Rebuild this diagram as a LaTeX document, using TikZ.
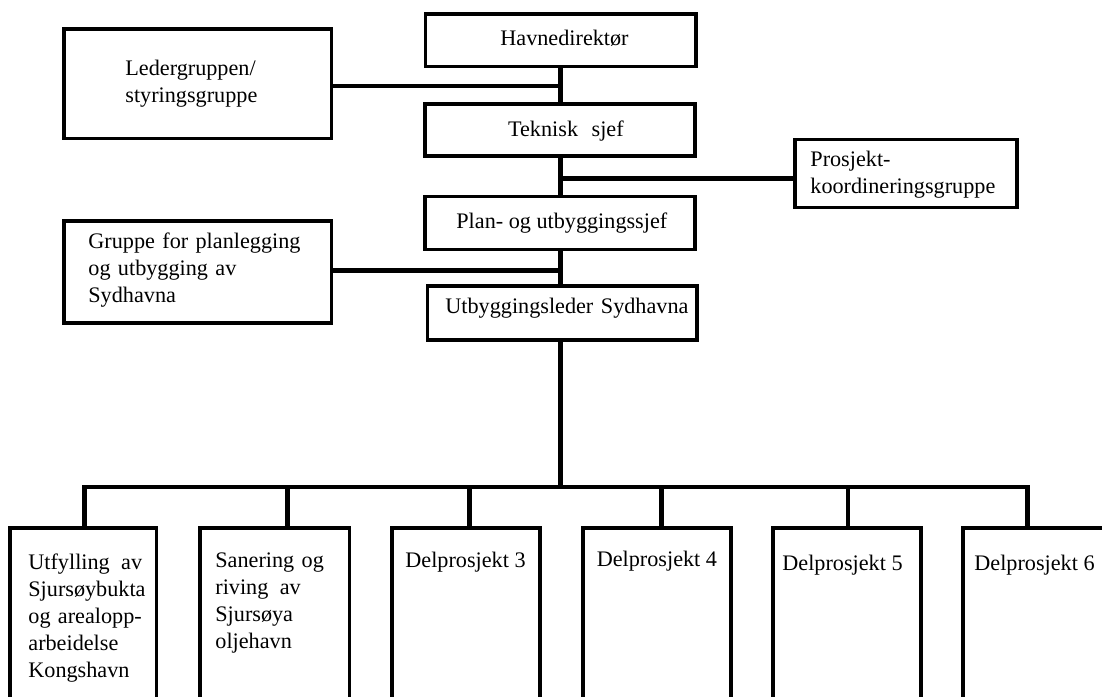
\documentclass[tikz,border=0pt]{standalone}
\usepackage{fontspec}
\setmainfont{Liberation Serif}
\usetikzlibrary{fit}
\tikzset{
  box/.style={draw=black, line width=1.65pt, fill=white, inner sep=0pt},
  conn/.style={draw=black, line width=2.35pt},
  txt/.style={inner sep=0pt, font=\fontsize{11.1pt}{13.5pt}\selectfont, anchor=base west},
  mtxt/.style={txt, text width=200pt, align=left}
}
\begin{document}
\begin{tikzpicture}[x=0.5pt,y=-0.5pt]
\useasboundingbox (0,0) rectangle (1102,696);
\fill[white] (0,0) rectangle (1102,696);
\clip (0,0) rectangle (1102,696);

% boxes
\node[box, fit={(425.7,14) (696,66.7)}] (hd) {};
\node[box, fit={(425,104) (695,156)}] (ts) {};
\node[box, fit={(425,196.7) (695,249.3)}] (pu) {};
\node[box, fit={(427.7,286) (697,340)}] (ul) {};
\node[box, fit={(64,29) (331.7,138.5)}] (lg) {};
\node[box, fit={(795,139.3) (1017,207.3)}] (pk) {};
\node[box, fit={(64,221) (331.7,323)}] (gp) {};
\node[box, fit={(10,528) (156.7,730)}] (b1) {};
\node[box, fit={(200,528) (349.5,730)}] (b2) {};
\node[box, fit={(392,528) (540,730)}] (b3) {};
\node[box, fit={(583,528) (731,730)}] (b4) {};
\node[box, fit={(773,528) (921,730)}] (b5) {};
\node[box, fit={(963,528) (1111,730)}] (b6) {};

% connectors
\coordinate (jl) at (563,86);
\coordinate (jp) at (560.7,178.3);
\coordinate (jg) at (561.7,270.7);
\coordinate (bus) at (560.7,487);
\coordinate (d1) at (84.6,487);
\coordinate (d2) at (287.5,487);
\coordinate (d3) at (469.6,487);
\coordinate (d4) at (661.4,487);
\coordinate (d5) at (848,487);
\coordinate (d6) at (1027.5,487);

\draw[conn] (jp |- hd.south) -- (jp |- ts.north);
\draw[conn] (lg.east |- jl) -- (jl);
\draw[conn] (jp |- ts.south) -- (jp |- pu.north);
\draw[conn] (jp) -- (jp -| pk.west);
\draw[conn] (jp |- pu.south) -- (jp |- ul.north);
\draw[conn] (gp.east |- jg) -- (jg);
\draw[conn] (jp |- ul.south) -- (bus);
\draw[conn] (d1 |- b1.north) -- (d1) -- (d6) -- (d6 |- b6.north);
\draw[conn] (d2) -- (d2 |- b2.north);
\draw[conn] (d3) -- (d3 |- b3.north);
\draw[conn] (d4) -- (d4 |- b4.north);
\draw[conn] (d5) -- (d5 |- b5.north);

% texts
\node[txt] (hdt) at (500,46) {Havnedirektør};
\node[txt] (tst) at (507.7,136) {Teknisk\hspace{4pt} sjef};
\node[txt] (put) at (456,228.3) {Plan- og utbyggingssjef};
\node[txt] (ult) at (445,313.3) {Utbyggingsleder\hspace{1pt} Sydhavna};
\node[mtxt] (lgt) at (125,75) {Ledergruppen/\\styringsgruppe};
\node[mtxt] (pkt) at (810,166.7) {Prosjekt-\\koordineringsgruppe};
\node[mtxt] (gpt) at (88,248.7) {Gruppe for planlegging\\og utbygging av\\Sydhavna};
\node[mtxt] (b1t) at (28,569) {Utfylling\hspace{2pt} av\\Sjursøybukta\\og arealopp-\\arbeidelse\\Kongshavn};
\node[mtxt] (b2t) at (215,567) {Sanering og\\riving\hspace{2pt} av\\Sjursøya\\oljehavn};
\node[txt] (b3t) at (405,567) {Delprosjekt 3};
\node[txt] (b4t) at (596.4,566.7) {Delprosjekt 4};
\node[txt] (b5t) at (782,570) {Delprosjekt 5};
\node[txt] (b6t) at (974,570) {Delprosjekt 6};
\end{tikzpicture}
\end{document}
